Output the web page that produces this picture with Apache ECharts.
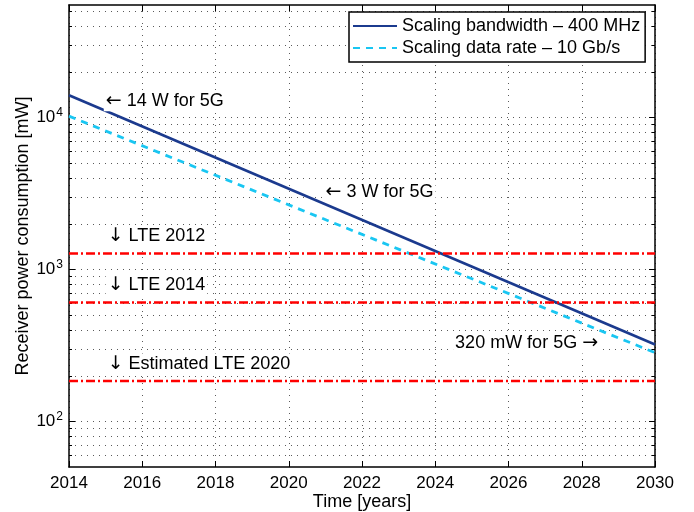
<!DOCTYPE html>
<html>
<head>
<meta charset="utf-8">
<script src="https://cdn.jsdelivr.net/npm/echarts@6/dist/echarts.min.js"></script>
<style>
  html, body { margin: 0; padding: 0; background: #fff; }
  #chart { width: 694px; height: 512px; }
</style>
</head>
<body>
<div id="chart"></div>
<script>
// Projected receiver power of a 5G handset versus LTE reference levels
const years = [2014, 2030];
const bandwidthPower = [14000, 320];   // mW, scaling bandwidth to 400 MHz
const dataRatePower = [10200, 283];    // mW, scaling data rate to 10 Gb/s
const seriesNames = ['Scaling bandwidth \u2013 400 MHz', 'Scaling data rate \u2013 10 Gb/s'];
const lteNames = ['LTE 2012', 'LTE 2014', 'Estimated LTE 2020'];
const ltePower = [1270, 605, 184];     // mW
const xTickStep = 2;
const yDecades = [100, 1000, 10000];

const FONT = '"Liberation Sans", Arial, Helvetica, sans-serif';
const ARROW_FONT = '"DejaVu Sans", sans-serif';
const X_MIN = 2014, X_MAX = 2030, Y_MIN = 50, Y_MAX = 55000;

// log-scale grid levels: every 1..9 multiple of each decade inside the axis range
const gridLevels = [];
[10, 100, 1000, 10000].forEach(d => {
  for (let k = 1; k <= 9; k++) {
    const v = k * d;
    if (v > Y_MIN && v < Y_MAX) gridLevels.push(v);
  }
});

const chart = echarts.init(document.getElementById('chart'), null, { renderer: 'canvas' });

function logGridItem(params, api) {
  const cs = params.coordSys;
  const v = api.value(1);
  const y = Math.round(api.coord([X_MIN, v])[1]) + 0.5;
  const major = yDecades.indexOf(v) >= 0;
  const len = major ? 6 : 3;
  const dot = { stroke: '#5a5a5a', lineWidth: 1, lineDash: [1, 5] };
  const tick = { stroke: '#000', lineWidth: 1 };
  return {
    type: 'group',
    children: [
      { type: 'line', shape: { x1: cs.x, y1: y, x2: cs.x + cs.width, y2: y }, style: dot },
      { type: 'line', shape: { x1: cs.x, y1: y, x2: cs.x + len, y2: y }, style: tick },
      { type: 'line', shape: { x1: cs.x + cs.width - len, y1: y, x2: cs.x + cs.width, y2: y }, style: tick }
    ]
  };
}

function decadeLabel(v) {
  const lg = Math.log10(v);
  const e = Math.round(lg);
  if (Math.abs(lg - e) > 1e-6 || v < Y_MIN * 1.1 || v > Y_MAX / 1.1) return '';
  return '{b|10}{s|' + e + '}';
}

const axisLineStyle = { color: '#000', width: 1.5 };

const option = {
  animation: false,
  backgroundColor: '#fff',
  grid: { left: 69, right: 39, top: 5, bottom: 45, containLabel: false, outerBoundsMode: 'none' },
  legend: {
    data: seriesNames,
    orient: 'vertical',
    left: 349,
    top: 12,
    itemWidth: 44,
    itemHeight: 14,
    itemGap: 0,
    padding: [3, 5, 3, 3],
    backgroundColor: '#fff',
    borderColor: '#000',
    borderWidth: 1.5,
    borderRadius: 0,
    selectedMode: false,
    itemStyle: { opacity: 0 },
    textStyle: { fontSize: 18, color: '#000', fontFamily: FONT, lineHeight: 22 }
  },
  xAxis: [
    {
      type: 'value', min: X_MIN, max: X_MAX, interval: xTickStep, position: 'bottom',
      axisLine: { lineStyle: axisLineStyle },
      axisTick: { inside: true, length: 6, lineStyle: { color: '#000', width: 1 } },
      axisLabel: { color: '#000', fontSize: 17, fontFamily: FONT, margin: 8, formatter: v => String(v) },
      splitLine: { show: true, lineStyle: { color: '#5a5a5a', width: 1, type: [1, 5] } },
      name: 'Time [years]', nameLocation: 'middle', nameGap: 26, nameMoveOverlap: false,
      nameTextStyle: { color: '#000', fontSize: 18, fontFamily: FONT }
    },
    {
      type: 'value', min: X_MIN, max: X_MAX, interval: xTickStep, position: 'top',
      axisLine: { lineStyle: axisLineStyle },
      axisTick: { inside: true, length: 6, lineStyle: { color: '#000', width: 1 } },
      axisLabel: { show: false },
      splitLine: { show: false }
    }
  ],
  yAxis: [
    {
      type: 'log', logBase: 10, min: Y_MIN, max: Y_MAX, position: 'left',
      axisLine: { lineStyle: axisLineStyle },
      axisTick: { show: false },
      splitLine: { show: false },
      axisLabel: {
        color: '#000', fontFamily: FONT, margin: 6,
        showMinLabel: false, showMaxLabel: false,
        formatter: decadeLabel,
        rich: {
          b: { fontSize: 17, fontFamily: FONT, color: '#000' },
          s: { fontSize: 12, fontFamily: FONT, color: '#000', verticalAlign: 'top', padding: [0, 0, 9, 1] }
        }
      },
      name: 'Receiver power consumption [mW]', nameLocation: 'middle', nameGap: 37, nameMoveOverlap: false,
      nameTextStyle: { color: '#000', fontSize: 18, fontFamily: FONT }
    },
    {
      type: 'log', logBase: 10, min: Y_MIN, max: Y_MAX, position: 'right',
      axisLine: { lineStyle: axisLineStyle },
      axisTick: { show: false },
      splitLine: { show: false },
      axisLabel: { show: false }
    }
  ],
  series: [
    {
      type: 'custom', name: 'log grid', silent: true, z: 1,
      xAxisIndex: 0, yAxisIndex: 0,
      data: gridLevels.map(v => [X_MIN, v]),
      renderItem: logGridItem
    },
    {
      type: 'line', name: seriesNames[0], z: 3,
      data: years.map((yr, i) => [yr, bandwidthPower[i]]),
      symbol: 'none', silent: true,
      lineStyle: { color: '#1b3a8e', width: 2.6, type: 'solid' },
      itemStyle: { color: '#1b3a8e' }
    },
    {
      type: 'line', name: seriesNames[1], z: 3,
      data: years.map((yr, i) => [yr, dataRatePower[i]]),
      symbol: 'none', silent: true,
      lineStyle: { color: '#19c6f2', width: 2.8, type: [7, 6] },
      itemStyle: { color: '#19c6f2' }
    }
  ].concat(ltePower.map((p, i) => ({
    type: 'line', name: lteNames[i], z: 4,
    data: [[X_MIN, p], [X_MAX, p]],
    symbol: 'none', silent: true,
    lineStyle: { color: '#ff0000', width: 2.5, type: [9, 3, 2, 3] },
    itemStyle: { color: '#ff0000' }
  })))
};

chart.setOption(option);

// Annotations, anchored in data units (year, mW); arrows set in a font with proper arrow glyphs
const notes = [
  { text: '{a|\u2190} 14 W for 5G', at: [2014.95, 12900], align: 'left' },
  { text: '{a|\u2190} 3 W for 5G', at: [2020.95, 3250], align: 'left' },
  { text: '320 mW for 5G {a|\u2192}', at: [2028.5, 328], align: 'right' },
  { text: '{a|\u2193} LTE 2012', at: [2015.0, 1658], align: 'left' },
  { text: '{a|\u2193} LTE 2014', at: [2015.0, 788], align: 'left' },
  { text: '{a|\u2193} Estimated LTE 2020', at: [2015.0, 238], align: 'left' }
];

const graphics = notes.map(n => {
  const p = chart.convertToPixel({ xAxisIndex: 0, yAxisIndex: 0 }, n.at);
  return {
    type: 'text', x: p[0], y: p[1], z: 50, silent: true,
    style: {
      text: n.text, fill: '#000', font: '18px ' + FONT,
      align: n.align, verticalAlign: 'middle',
      textAlign: n.align, textVerticalAlign: 'middle',
      backgroundColor: '#fff', padding: [1, 2],
      rich: { a: { font: '19px ' + ARROW_FONT, fill: '#000' } }
    }
  };
});
chart.setOption({ graphic: graphics });
</script>
</body>
</html>
